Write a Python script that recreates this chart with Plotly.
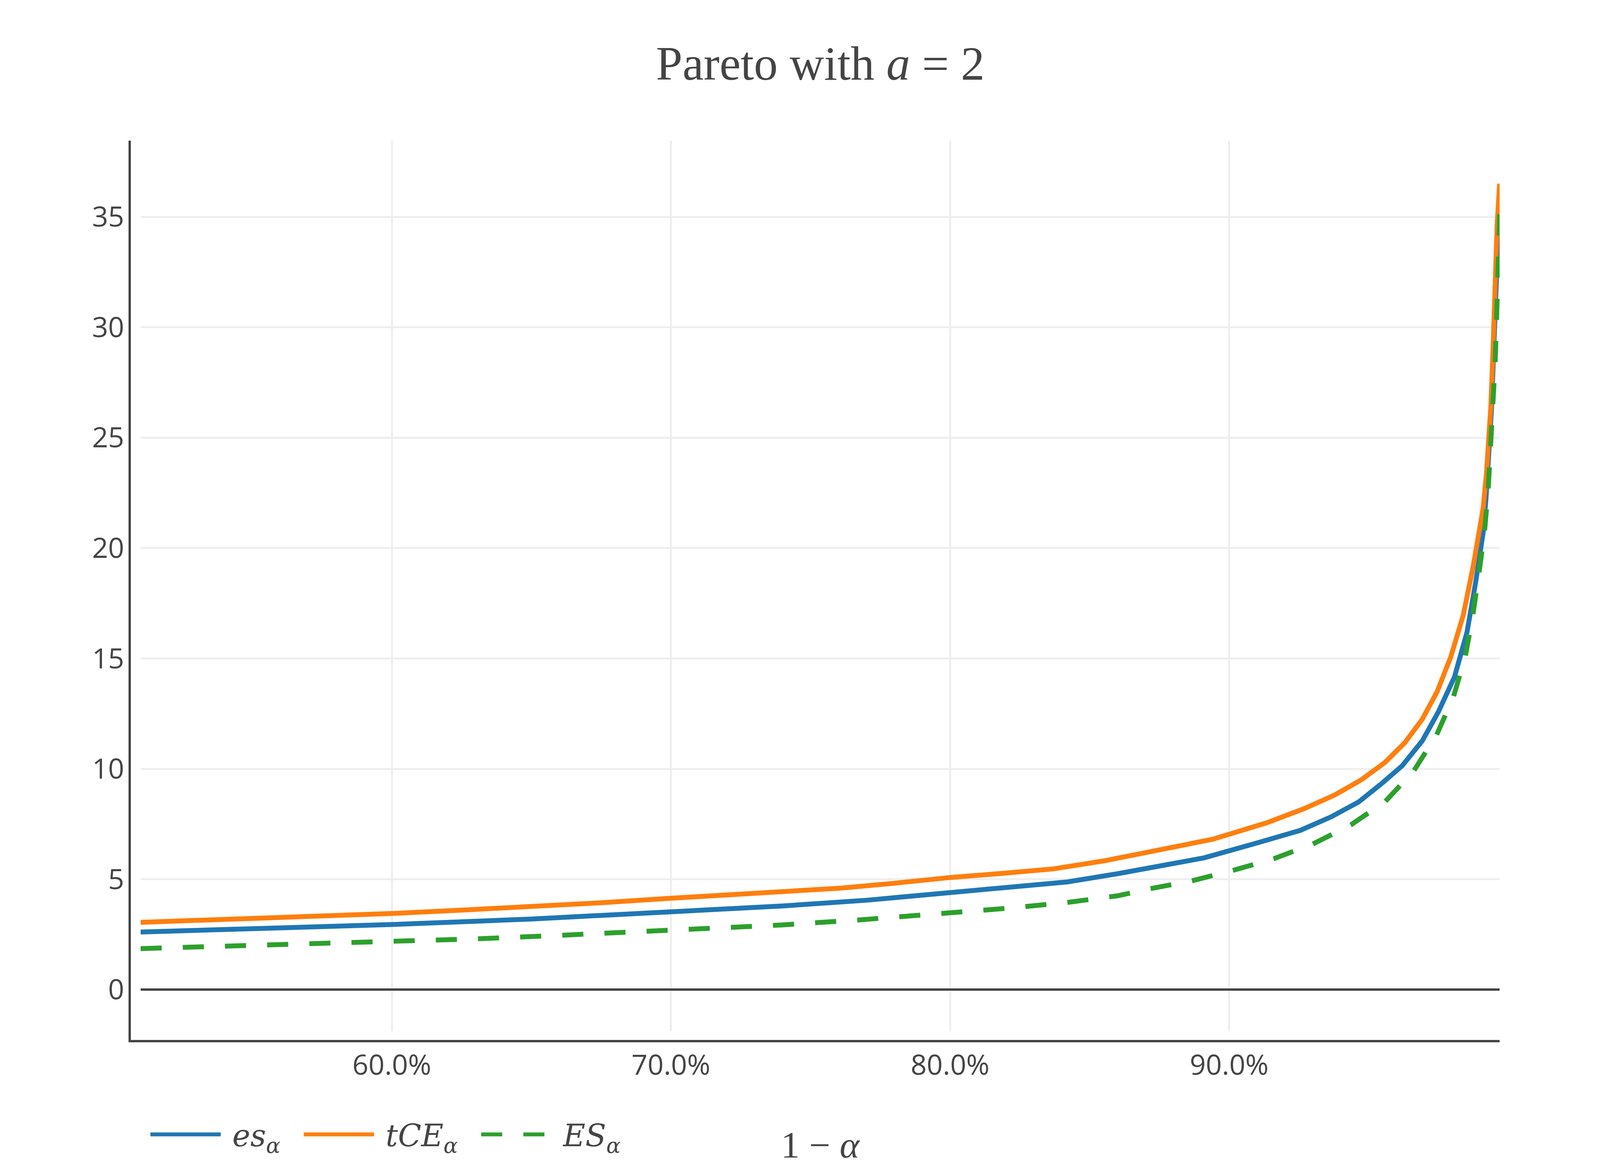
import plotly.graph_objects as go

# 1 - alpha (as fraction) and the three measures
x_es = [0.510, 0.550, 0.600, 0.650, 0.700, 0.740, 0.770, 0.800, 0.820, 0.842, 0.860, 0.880,
        0.891, 0.909, 0.9254, 0.9366, 0.9464, 0.9545, 0.9620, 0.9692, 0.9749, 0.9807,
        0.9852, 0.9883, 0.9910, 0.9920, 0.9930, 0.9940, 0.9948, 0.9955, 0.9962, 0.9969]
es = [2.61, 2.76, 2.95, 3.20, 3.52, 3.79, 4.05, 4.40, 4.60, 4.88, 5.25, 5.72,
      5.97, 6.61, 7.21, 7.83, 8.50, 9.32, 10.14, 11.27, 12.57, 14.15,
      16.18, 18.44, 20.69, 22.2, 24.0, 26.3, 29.0, 31.8, 34.0, 35.9]

x_tce = [0.510, 0.550, 0.600, 0.6275, 0.650, 0.674, 0.700, 0.740, 0.761, 0.780, 0.800, 0.820,
         0.837, 0.855, 0.872, 0.880, 0.894, 0.9133, 0.9267, 0.9379, 0.9473, 0.9558, 0.9629,
         0.9692, 0.9745, 0.9794, 0.9839, 0.9875, 0.9910, 0.9922, 0.9930, 0.9938, 0.9946,
         0.9953, 0.9960, 0.9969]
tce = [3.05, 3.22, 3.45, 3.62, 3.76, 3.93, 4.14, 4.42, 4.60, 4.82, 5.08, 5.28,
       5.47, 5.83, 6.24, 6.45, 6.81, 7.55, 8.19, 8.82, 9.50, 10.29, 11.18,
       12.25, 13.49, 15.07, 16.97, 19.22, 21.8, 23.4, 24.9, 26.5, 29.2,
       32.3, 34.6, 36.5]

x_ES = [0.510, 0.550, 0.600, 0.630, 0.660, 0.700, 0.7395, 0.7675, 0.800, 0.820, 0.842, 0.860,
        0.8716, 0.8867, 0.9013, 0.9160, 0.9299, 0.9436, 0.9560, 0.9662, 0.9743, 0.9803,
        0.9846, 0.9873, 0.9895, 0.9915, 0.9928, 0.9937, 0.9946, 0.9953, 0.9958, 0.9962,
        0.9965, 0.9969]
ES = [1.86, 1.99, 2.18, 2.30, 2.46, 2.69, 2.93, 3.16, 3.46, 3.68, 3.95, 4.25,
      4.57, 4.93, 5.40, 5.93, 6.59, 7.46, 8.53, 9.92, 11.53, 13.24,
      15.08, 16.95, 18.85, 20.74, 22.64, 24.56, 26.46, 28.38, 30.28, 32.20,
      34.12, 35.2]

names = ["\u00a0<i>es</i><sub><i>α</i></sub>\u00a0\u00a0",
         "\u00a0<i>tCE</i><sub><i>α</i></sub>\u00a0\u00a0",
         "\u00a0<i>ES</i><sub><i>α</i></sub>"]
colors = ["#1f77b4", "#ff7f0e", "#2ca02c"]

serif = "Liberation Serif, DejaVu Serif, serif"
legend_serif = "DejaVu Serif, Liberation Serif, serif"

fig = go.Figure()
fig.add_trace(go.Scatter(x=x_es, y=es, mode="lines", name=names[0],
                         line=dict(color=colors[0], width=12.5)))
fig.add_trace(go.Scatter(x=x_tce, y=tce, mode="lines", name=names[1],
                         line=dict(color=colors[1], width=12.5)))
fig.add_trace(go.Scatter(x=x_ES, y=ES, mode="lines", name=names[2],
                         line=dict(color=colors[2], width=12.5, dash="54px,54px")))

fig.update_layout(
    template="none",
    width=4200, height=3000,
    margin=dict(l=324, r=369, t=352, b=343, autoexpand=False),
    paper_bgcolor="white", plot_bgcolor="white",
    font=dict(family="Open Sans, verdana, arial, sans-serif", size=72, color="#444"),
    title=dict(text="Pareto with <i>a</i> = 2", x=0.4981, xref="container",
               y=1 - 153 / 3000, yref="container", yanchor="middle",
               font=dict(family=serif, size=122, color="#444")),
    showlegend=True,
    legend=dict(orientation="h", x=0.0137, xanchor="left", y=-0.1037, yanchor="middle",
                font=dict(family=legend_serif, size=78, color="#444"), itemwidth=180,
                bgcolor="rgba(0,0,0,0)"),
    xaxis=dict(domain=[28 / 3507, 1], anchor="free", position=0,
               range=[0.51, 0.9969], dtick=0.1, tick0=0, tickformat=".1%",
               showgrid=True, gridcolor="#eee", gridwidth=5,
               zeroline=False, showline=False, ticks="", ticklabelstandoff=13,
               title=dict(text="1 − <i>α</i>", standoff=124,
                          font=dict(family=serif, size=96, color="#444"))),
    yaxis=dict(domain=[25 / 2305, 1], anchor="free", position=0,
               range=[-1.888, 38.45], dtick=5, tick0=0,
               showgrid=True, gridcolor="#eee", gridwidth=5,
               zeroline=True, zerolinecolor="#444", zerolinewidth=6,
               showline=False, ticks="", ticklabelstandoff=14),
    shapes=[dict(type="path", xref="paper", yref="paper", path="M 0,1 L 0,0 L 1,0",
                 line=dict(color="#444", width=6))],
)

fig.write_html("out.html")
